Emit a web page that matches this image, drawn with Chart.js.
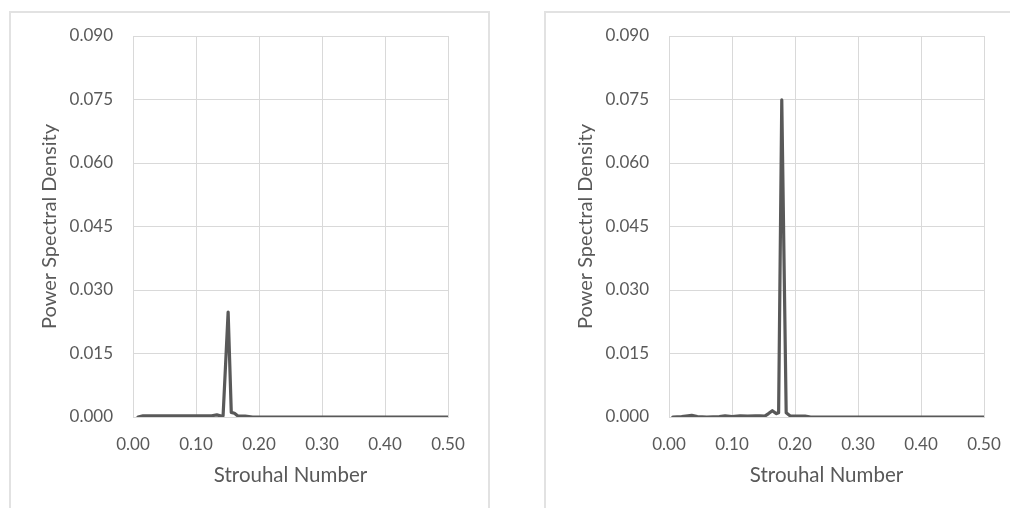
<!DOCTYPE html>
<html>
<head>
<meta charset="utf-8">
<script src="https://cdn.jsdelivr.net/npm/chart.js@4/dist/chart.umd.min.js"></script>
<style>
  html, body { margin: 0; padding: 0; background: #fff; width: 1010px; height: 508px; overflow: hidden; }
  .frame { position: absolute; box-sizing: border-box; border: 2px solid #e2e2e2; }
  .holder { position: absolute; }
</style>
</head>
<body>
<div class="frame" style="left:9px; top:11px; width:481px; height:520px;"></div>
<div class="frame" style="left:544px; top:11px; width:520px; height:520px;"></div>
<div class="holder" style="left:9px; top:12px; width:480px; height:496px;"><canvas id="c1"></canvas></div>
<div class="holder" style="left:545px; top:12px; width:465px; height:496px;"><canvas id="c2"></canvas></div>
<script>
// ---- data ----
const stLeft  = [0.008, 0.016, 0.030, 0.050, 0.070, 0.090, 0.110, 0.125, 0.133, 0.140, 0.143, 0.151, 0.156, 0.161, 0.166, 0.172, 0.178, 0.184, 0.190, 0.250, 0.300, 0.350, 0.400, 0.450, 0.500];
const psdLeft = [0.0000, 0.0003, 0.0003, 0.0003, 0.0003, 0.0003, 0.0003, 0.0003, 0.0005, 0.0002, 0.0003, 0.0248, 0.0011, 0.0009, 0.0003, 0.0002, 0.0002, 0.0001, 0.0000, 0.0000, 0.0000, 0.0000, 0.0000, 0.0000, 0.0000];

const stRight  = [0.006, 0.020, 0.030, 0.036, 0.045, 0.060, 0.080, 0.089, 0.100, 0.113, 0.125, 0.137, 0.144, 0.152, 0.158, 0.164, 0.170, 0.174, 0.179, 0.186, 0.192, 0.200, 0.210, 0.216, 0.225, 0.300, 0.400, 0.500];
const psdRight = [0.0000, 0.0001, 0.0003, 0.0004, 0.0001, 0.0000, 0.0001, 0.0003, 0.0001, 0.0003, 0.0002, 0.0003, 0.0003, 0.0002, 0.0008, 0.0015, 0.0008, 0.0010, 0.0749, 0.0010, 0.0003, 0.0002, 0.0002, 0.0002, 0.0000, 0.0000, 0.0000, 0.0000];

const xTickValues = [0.00, 0.10, 0.20, 0.30, 0.40, 0.50];
const yTickValues = [0.000, 0.015, 0.030, 0.045, 0.060, 0.075, 0.090];
const xTitle = 'Strouhal Number';
const yTitle = 'Power Spectral Density';

const TXT = '#595959';
const GRID = '#d9d9d9';
const FONT = 'Lato';

function makeChart(id, xs, ys, rightPad) {
  const pts = xs.map((x, i) => ({ x: x, y: ys[i] }));
  return new Chart(document.getElementById(id), {
    type: 'line',
    data: {
      datasets: [{
        data: pts,
        borderColor: '#595959',
        borderWidth: 3.2,
        pointRadius: 0,
        tension: 0,
        fill: false,
        borderJoinStyle: 'round',
        borderCapStyle: 'round'
      }]
    },
    options: {
      responsive: true,
      maintainAspectRatio: false,
      animation: false,
      events: [],
      layout: { padding: { top: 24, right: rightPad, left: 0, bottom: 0 } },
      plugins: { legend: { display: false }, tooltip: { enabled: false } },
      scales: {
        x: {
          type: 'linear',
          min: 0, max: 0.5,
          afterBuildTicks: s => { s.ticks = xTickValues.map(v => ({ value: v })); },
          afterFit: s => { s.height = 91; s.paddingLeft = 0; s.paddingRight = 0; },
          grid: { color: GRID, lineWidth: 1, drawTicks: false },
          border: { display: true, color: GRID },
          ticks: {
            padding: 17,
            color: TXT,
            font: { family: FONT, size: 17 },
            maxRotation: 0,
            callback: v => Number(v).toFixed(2)
          },
          title: {
            display: true, text: xTitle, color: TXT,
            font: { family: FONT, size: 20.5 },
            padding: { top: 0, bottom: 20 }
          }
        },
        y: {
          type: 'linear',
          min: 0, max: 0.09,
          afterBuildTicks: s => { s.ticks = yTickValues.map(v => ({ value: v })); },
          afterFit: s => { s.width = 124; s.paddingTop = 0; s.paddingBottom = 0; },
          grid: { color: GRID, lineWidth: 1, drawTicks: false },
          border: { display: false },
          ticks: {
            padding: 20,
            color: TXT,
            font: { family: FONT, size: 17 },
            callback: v => Number(v).toFixed(3)
          },
          title: {
            display: true, text: yTitle, color: TXT,
            font: { family: FONT, size: 20 },
            padding: { top: 29, bottom: 0 }
          }
        }
      }
    }
  });
}

makeChart('c1', stLeft, psdLeft, 41);
makeChart('c2', stRight, psdRight, 26);
</script>
</body>
</html>
